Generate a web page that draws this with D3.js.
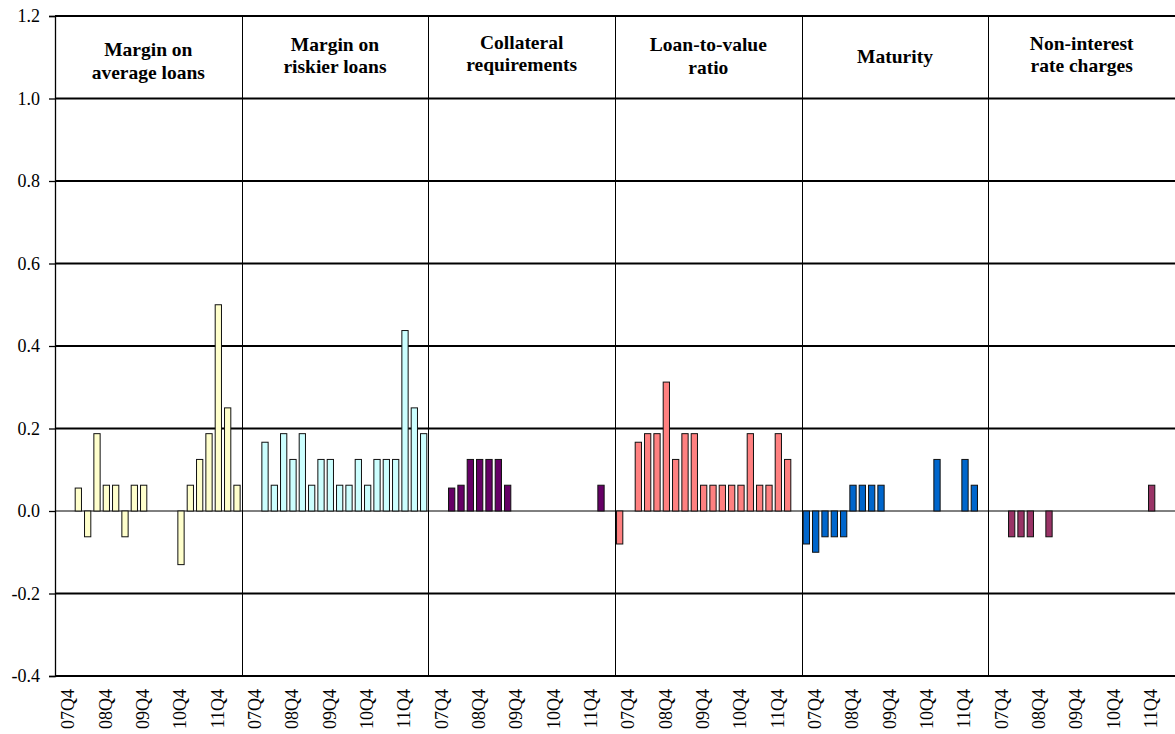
<!DOCTYPE html>
<html>
<head>
<meta charset="utf-8">
<script src="https://cdn.jsdelivr.net/npm/d3@7"></script>
<style>
  html, body { margin: 0; padding: 0; background: #fff; }
  svg { display: block; }
</style>
</head>
<body>
<svg id="chart" width="1175" height="734"></svg>
<script>
// ---------------- DATA ----------------
const quarters = ["07Q3","07Q4","08Q1","08Q2","08Q3","08Q4","09Q1","09Q2","09Q3","09Q4",
                  "10Q1","10Q2","10Q3","10Q4","11Q1","11Q2","11Q3","11Q4","12Q1","12Q2"];
const tickLabels = ["07Q4","08Q4","09Q4","10Q4","11Q4"];
const yTicks = [-0.4,-0.2,0.0,0.2,0.4,0.6,0.8,1.0,1.2];

const panelTitles = [
  ["Margin on","average loans"],
  ["Margin on","riskier loans"],
  ["Collateral","requirements"],
  ["Loan-to-value","ratio"],
  ["Maturity"],
  ["Non-interest","rate charges"]
];
const panelColors = ["#FFFFCC","#CCFFFF","#660066","#FF8080","#0066CC","#993366"];

const marginAverage = [null,null,0.0556,-0.0625,0.1875,0.0625,0.0625,-0.0625,0.0625,0.0625,
                       null,null,null,-0.13,0.0625,0.125,0.1875,0.5,0.25,0.0625];
const marginRiskier = [null,null,0.1667,0.0625,0.1875,0.125,0.1875,0.0625,0.125,0.125,
                       0.0625,0.0625,0.125,0.0625,0.125,0.125,0.125,0.4375,0.25,0.1875];
const collateral    = [null,null,0.0556,0.0625,0.125,0.125,0.125,0.125,0.0625,null,
                       null,null,null,null,null,null,null,null,0.0625,null];
const loanToValue   = [-0.08,null,0.1667,0.1875,0.1875,0.3125,0.125,0.1875,0.1875,0.0625,
                       0.0625,0.0625,0.0625,0.0625,0.1875,0.0625,0.0625,0.1875,0.125,null];
const maturity      = [-0.08,-0.1,-0.0625,-0.0625,-0.0625,0.0625,0.0625,0.0625,0.0625,null,
                       null,null,null,null,0.125,null,null,0.125,0.0625,null];
const nonInterest   = [null,null,-0.0625,-0.0625,-0.0625,null,-0.0625,null,null,null,
                       null,null,null,null,null,null,null,0.0625,null,null];

const seriesValues = [marginAverage, marginRiskier, collateral, loanToValue, maturity, nonInterest];

// ---------------- LAYOUT ----------------
const plotLeft = 55, plotRight = 1175, plotTop = 16, plotBottom = 676;
const titleBaselines = [[56,79],[51,73],[49,71],[51,74],[63],[50,72]];
const serifFont = '"Liberation Serif"';

const svg = d3.select("#chart");

const y = d3.scaleLinear().domain([-0.4, 1.2]).range([plotBottom, plotTop]);
const xPanel = d3.scaleBand().domain(d3.range(seriesValues.length)).range([plotLeft, plotRight]).padding(0);
const xQ = d3.scaleBand().domain(quarters).range([0, xPanel.bandwidth()])
  .paddingInner(0.22).paddingOuter(0.11);

// horizontal gridlines
svg.append("g").selectAll("line").data(yTicks).join("line")
  .attr("x1", plotLeft).attr("x2", plotRight)
  .attr("y1", d => y(d)).attr("y2", d => y(d))
  .attr("stroke", "#000")
  .attr("stroke-width", d => d === 0 ? 1 : 2);

// panel dividers
svg.append("g").selectAll("line").data(d3.range(1, seriesValues.length)).join("line")
  .attr("x1", d => Math.round(xPanel(d)) + 0.5).attr("x2", d => Math.round(xPanel(d)) + 0.5)
  .attr("y1", plotTop).attr("y2", plotBottom)
  .attr("stroke", "#000").attr("stroke-width", 1);

// y axis
const fmt = d3.format(".1f");
const yAxis = d3.axisLeft(y).tickValues(yTicks).tickSize(6).tickPadding(9)
  .tickFormat(d => fmt(d).replace("\u2212", "-"));
const gy = svg.append("g").attr("transform", `translate(${plotLeft},0)`).call(yAxis);
gy.attr("font-family", serifFont).attr("font-size", 18);
gy.select(".domain").attr("stroke", "#000").attr("stroke-width", 1.3);
gy.selectAll(".tick line").attr("stroke", "#000").attr("stroke-width", 1.3);
gy.selectAll(".tick text").attr("fill", "#000");

// panels
seriesValues.forEach((vals, p) => {
  const g = svg.append("g").attr("transform", `translate(${xPanel(p)},0)`);
  const data = quarters.map((q, i) => ({ q, v: vals[i] })).filter(d => d.v !== null);
  g.selectAll("rect").data(data).join("rect")
    .attr("x", d => xQ(d.q) + 0.5)
    .attr("width", xQ.bandwidth() - 1)
    .attr("y", d => y(Math.max(0, d.v)))
    .attr("height", d => Math.abs(y(d.v) - y(0)))
    .attr("fill", panelColors[p])
    .attr("stroke", "#111")
    .attr("stroke-width", 1);

  // x tick labels
  g.selectAll("text.xl").data(tickLabels).join("text")
    .attr("class", "xl")
    .attr("transform", d => `translate(${xQ(d) + xQ.bandwidth() / 2 - 1},689) rotate(-90)`)
    .attr("text-anchor", "end")
    .attr("dy", "0.35em")
    .attr("font-family", serifFont)
    .attr("font-size", 18)
    .attr("fill", "#000")
    .text(d => d);

  // titles
  const cx = xPanel.bandwidth() / 2;
  g.selectAll("text.tt").data(panelTitles[p]).join("text")
    .attr("class", "tt")
    .attr("x", cx)
    .attr("y", (d, i) => titleBaselines[p][i])
    .attr("text-anchor", "middle")
    .attr("font-family", serifFont)
    .attr("font-size", 19.5)
    .attr("font-weight", "bold")
    .attr("fill", "#000")
    .text(d => d);
});
</script>
</body>
</html>
